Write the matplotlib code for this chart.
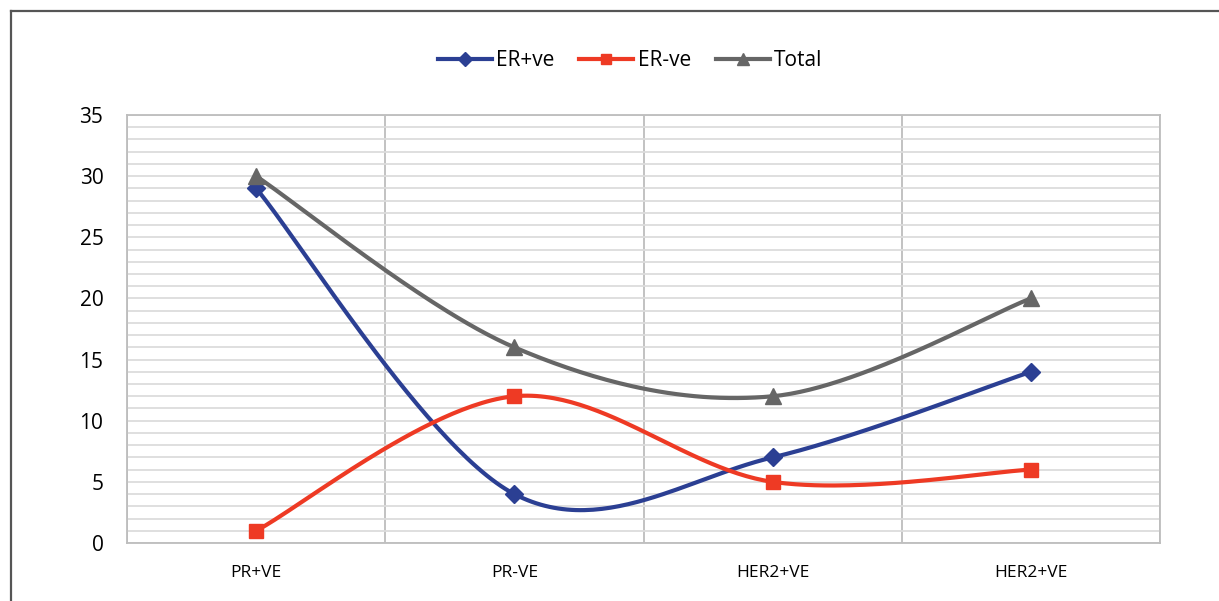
import numpy as np
import matplotlib
matplotlib.use('Agg')
import matplotlib.pyplot as plt
from matplotlib.lines import Line2D

categories = ['PR+VE', 'PR-VE', 'HER2+VE', 'HER2+VE']
er_pos = [29, 4, 7, 14]
er_neg = [1, 12, 5, 6]
total = [30, 16, 12, 20]


def smooth(xs, ys, n=60):
    # excel-style smoothed line (catmull-rom as bezier)
    p = np.column_stack([xs, ys]).astype(float)
    p = np.vstack([p[0], p, p[-1]])
    out = []
    for i in range(1, len(p) - 2):
        p0, p1, p2, p3 = p[i - 1], p[i], p[i + 1], p[i + 2]
        c1 = p1 + (p2 - p0) / 6
        c2 = p2 - (p3 - p1) / 6
        t = np.linspace(0, 1, n)[:, None]
        seg = (1 - t) ** 3 * p1 + 3 * (1 - t) ** 2 * t * c1 + 3 * (1 - t) * t ** 2 * c2 + t ** 3 * p2
        out.append(seg)
    out = np.vstack(out)
    return out[:, 0], out[:, 1]


plt.rcParams['font.family'] = ['Open Sans', 'DejaVu Sans']
fig = plt.figure(figsize=(12.19, 6.01), dpi=100)
ax = fig.add_axes([127 / 1219, 1 - 543 / 601, (1160 - 127) / 1219, (543 - 115) / 601])

x = np.arange(len(categories))
series = [
    (er_pos, '#2B3F93', 'D', 9.5, 'ER+ve'),
    (er_neg, '#EE3A24', 's', 10, 'ER-ve'),
    (total, '#666666', '^', 11.5, 'Total'),
]
handles = []
for vals, col, mk, ms, lab in series:
    sx, sy = smooth(x, vals)
    ax.plot(sx, sy, color=col, lw=3, solid_capstyle='round', zorder=3)
    ax.plot(x, vals, ls='none', marker=mk, ms=ms, color=col, zorder=4)
    handles.append(Line2D([], [], color=col, lw=3, marker=mk, ms=ms * 0.7, label=lab))

ax.set_xlim(-0.5, 3.5)
ax.set_ylim(0, 35)
ax.set_yticks(range(0, 36, 5))
ax.set_yticks(range(0, 36, 1), minor=True)
ax.set_xticks(x)
ax.set_xticklabels(categories, fontsize=12.5)
ax.set_xticks(np.arange(-0.5, 3.6, 1), minor=True)
ax.tick_params(axis='y', which='both', length=0, labelsize=15, pad=17)
ax.tick_params(axis='x', which='both', length=0, pad=16)
ax.grid(axis='y', which='both', color='#DCDCDC', lw=1.3)
ax.grid(axis='x', which='minor', color='#BDBDBD', lw=1.3)
ax.grid(axis='x', which='major', visible=False)
for s in ax.spines.values():
    s.set_color('#BDBDBD')
    s.set_linewidth(1.3)
ax.set_axisbelow(True)

fig.legend(handles=handles, loc='center', bbox_to_anchor=(630 / 1219, 1 - 61 / 601),
           ncol=3, frameon=False, fontsize=15, handlelength=2.6, columnspacing=1.2,
           handletextpad=0.2)

# frame lines on left and top edges
fig.add_artist(Line2D([11 / 1219, 11 / 1219], [0, 1 - 11 / 601], color='#555555', lw=1.6))
fig.add_artist(Line2D([11 / 1219, 1], [1 - 11 / 601, 1 - 11 / 601], color='#555555', lw=1.6))

fig.savefig('out.png', dpi=100)
